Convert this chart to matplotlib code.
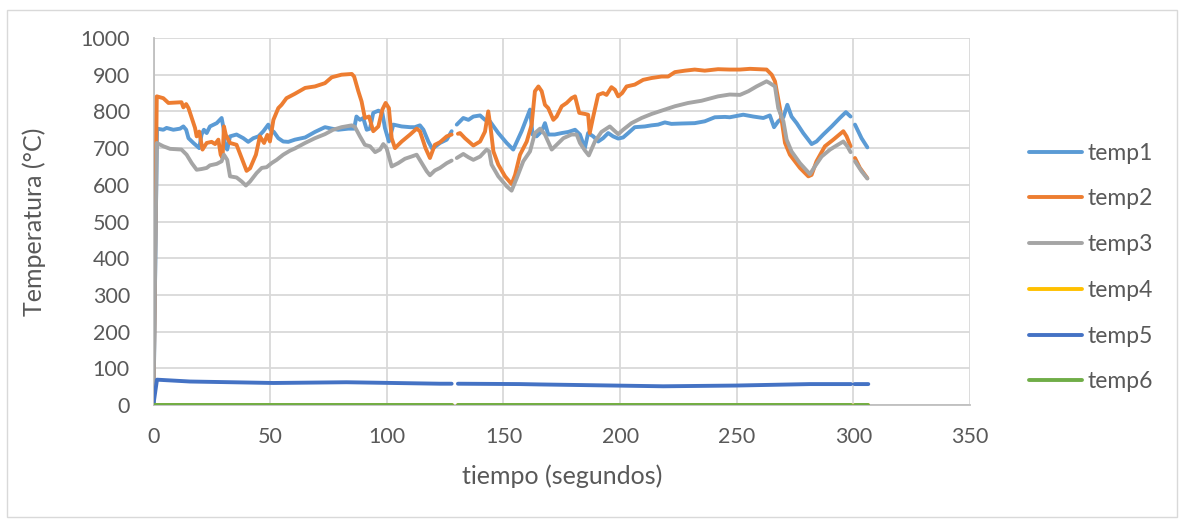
import numpy as np
import matplotlib
matplotlib.use("Agg")
import matplotlib.pyplot as plt
from matplotlib.patches import Rectangle

nan = np.nan

# --- data: time (s) and temperature (°C) per thermocouple; NaN marks missing samples ---
temp1_t = [0, 1.5, 4.2, 5.6, 8.5, 11.4, 12.8, 14, 15, 17.1, 19.6, 20.6, 21.6, 22.8, 24.2, 27.1, 29.2, 30, 30.6,
           31.6, 32.8, 35.6, 38.5, 40.6, 42.8, 45, 47.1, 49.2, 50.2, 51.6, 53.5, 55.6, 57.8, 60.6, 65, 69.2, 73.5,
           76.4, 79.2, 83.5, 86, 87, 88.5, 89.9, 91.4, 92.8, 94.2, 96.4, 98.1, 99.2, 100.9, 102.8, 106.4, 110, 112,
           114.2, 115.7, 117.8, 119.5, 122.8, 125.7, 127.8, 129, 130, 132.8, 135, 137.1, 140, 142.1, 144.2, 147.8,
           151.4, 154.2, 157.8, 161.4, 162.5, 164.2, 166.4, 167.8, 169.2, 172, 175, 177.8, 180.7, 182.8, 184.9,
           186.3, 188.5, 190.6, 192.7, 194.9, 197, 199.2, 201.3, 203.5, 206.3, 210.6, 213.5, 216.3, 219.2, 222,
           226.3, 232, 236.3, 240.6, 245, 247, 252.8, 257.1, 261.4, 264.2, 266, 267.8, 270, 271.7, 273.5, 275.7,
           278.5, 282.1, 284.2, 287.1, 290.7, 294.2, 296.8, 298.8, 299.7, 300.7, 303.5, 306]
temp1_v = [0, 753, 750, 755, 750, 753, 759, 750, 727, 714, 700, 737, 750, 741, 759, 768, 782, 755, 709,
           696, 732, 737, 727, 717, 727, 732, 746, 764, 750, 744, 727, 718, 717, 723, 729, 744, 757,
           753, 750, 753, 753, 786, 777, 782, 750, 753, 796, 802, 796, 755, 718, 764, 759, 757, 757,
           762, 750, 718, 698, 714, 723, 746, nan, 764, 782, 777, 786, 789, 777, 773, 741,
           714, 696, 746, 805, 737, 732, 746, 768, 737, 737, 741, 744, 750, 737, 700,
           741, 732, 718, 727, 741, 732, 726, 729, 741, 757, 759, 762, 764, 770, 766,
           767, 768, 773, 784, 785, 784, 791, 786, 782, 789, 757, 773, 784, 818, 786, 768,
           741, 711, 718, 737, 759, 782, 798, 786, nan, 764, 727, 702]

temp2_t = [0, 1.4, 4.2, 6.4, 12, 12.8, 14, 15, 17.8, 18.5, 19.6, 21, 22.8, 24.9, 26.4, 27.8, 28.8, 29.6, 30.2,
           31, 32.8, 35.6, 37.8, 39.9, 41.4, 43.9, 45.6, 47.4, 48.8, 49.9, 51.4, 53.5, 54.9, 57, 60.6, 65, 69.2,
           73.5, 76.4, 80.6, 85, 86, 87.8, 89.2, 90.6, 92.4, 94.2, 96.4, 98.1, 99.5, 100.9, 102.1, 103.5, 106.4,
           110, 112.8, 114.2, 116.6, 118.5, 120.6, 122.8, 125.7, 127.8, 129, 130.5, 131.4, 133.5, 137.1, 140,
           142.1, 143.5, 144.5, 145.7, 147.8, 150.7, 153.5, 155, 157.1, 160, 162.1, 163.5, 165, 166.4, 167.8,
           169.2, 171.4, 172.8, 175, 177.1, 179.2, 180.7, 182.5, 185, 186.3, 187, 188.5, 190.6, 192.7, 194.2,
           196.3, 197.8, 199.2, 200.9, 202.8, 206.3, 209.9, 213.5, 217.8, 220.6, 223.5, 227.8, 232, 236.3, 242,
           247, 251.4, 255.7, 262.8, 265, 266.4, 268.5, 270.7, 272.8, 277.1, 280.7, 282.1, 284.2, 287.8, 291.4,
           295.7, 297.1, 298.8, 299.7, 300.7, 302.8, 306]
temp2_v = [0, 841, 836, 823, 825, 811, 820, 809, 755, 732, 745, 696, 714, 717, 711, 723, 682, 673, 759,
           736, 714, 709, 673, 638, 645, 682, 732, 714, 736, 718, 777, 809, 818, 836, 848, 864, 868,
           877, 893, 900, 902, 895, 855, 827, 782, 786, 746, 759, 805, 823, 809, 727, 700, 718,
           737, 753, 746, 700, 673, 709, 716, 732, 737, nan, 739, 741, 727, 707, 718,
           745, 800, 755, 691, 655, 623, 602, 627, 682, 718, 764, 855, 868, 855, 818,
           809, 777, 786, 814, 823, 836, 841, 796, 793, 791, 741, 786, 845, 850, 845,
           866, 859, 841, 850, 868, 873, 886, 891, 895, 895, 907, 911, 914, 911, 915,
           914, 914, 916, 914, 900, 882, 809, 714, 682, 646, 623, 627, 664, 705, 723,
           746, 732, 705, nan, 673, 646, 618]

temp3_t = [0, 1.4, 4.2, 7.1, 12, 14.2, 16.4, 18.5, 20.6, 22.8, 24.2, 27.1, 29.2, 30.2, 31.6, 32.8, 35.6, 37.8,
           39.6, 41.4, 44.2, 46.4, 48.5, 50.6, 52.8, 55.6, 58.5, 60.6, 65, 69.2, 73.5, 77, 80.6, 85, 86.4, 88.5,
           90.6, 92.8, 95, 97.1, 98.5, 99.9, 102.1, 104.9, 107.8, 110.6, 112.8, 115, 117.1, 118.5, 120.6, 122.8,
           125.7, 127.8, 129, 130, 132.8, 135, 137.1, 140, 142.8, 143.9, 144.9, 147.8, 151.4, 153.5, 155.7, 158.5,
           161.4, 163.5, 165.7, 167.8, 170.7, 172.8, 175.7, 179.2, 181.4, 182.8, 185, 186.6, 189.2, 192, 195.6,
           197.8, 199.2, 201.3, 204.9, 209.2, 213.5, 219.2, 223.5, 229.2, 234.9, 242, 247, 251.4, 255, 258.5,
           262.8, 264.2, 266.4, 267.8, 270, 271.4, 273.5, 277.1, 281.4, 283.5, 286.4, 290, 292.8, 295.7, 297.4,
           298.8, 299.7, 300.7, 303.5, 306]
temp3_v = [0, 714, 705, 698, 696, 682, 659, 641, 643, 646, 653, 657, 664, 682, 668, 623, 620, 609,
           598, 609, 632, 646, 648, 659, 668, 682, 693, 699, 714, 727, 738, 750, 757, 762, 757, 732,
           709, 705, 689, 696, 711, 700, 650, 659, 671, 677, 682, 659, 637, 626, 639, 646,
           659, 666, nan, 673, 684, 675, 668, 677, 696, 691, 655, 623, 596, 584, 618, 664,
           691, 741, 753, 737, 696, 709, 727, 737, 737, 714, 693, 680, 718, 744, 759,
           746, 738, 750, 768, 782, 793, 805, 814, 823, 829, 841, 846, 845, 855, 868,
           882, 877, 868, 809, 773, 723, 691, 659, 629, 650, 677, 696, 707, 718, 705,
           689, nan, 664, 637, 617]

temp4_t = [0, 127.8, 129, 130.5, 299, 299.7, 300.5, 306.4]
temp4_v = [0, 0, nan, 0, 0, nan, 0, 0]

temp5_t = [0, 1.5, 15.6, 51.4, 82.7, 122.8, 127.8, 129, 130.5, 157, 165.7, 218.5, 249.6, 281.4, 299, 299.7,
           300.5, 306.4]
temp5_v = [3, 69, 64, 60, 62, 58, 58, nan, 58, 57, 56, 51, 53, 57, 57, nan, 57, 57]

temp6_t = [0, 127.8, 129, 130.5, 299, 299.7, 300.5, 306.4]
temp6_v = [0, 0, nan, 0, 0, nan, 0, 0]

series_names = ["temp1", "temp2", "temp3", "temp4", "temp5", "temp6"]
series_colors = ["#5B9BD5", "#ED7D31", "#A5A5A5", "#FFC000", "#4472C4", "#70AD47"]
series_t = [temp1_t, temp2_t, temp3_t, temp4_t, temp5_t, temp6_t]
series_v = [temp1_v, temp2_v, temp3_v, temp4_v, temp5_v, temp6_v]

x_ticks = np.arange(0, 351, 50)
y_ticks = np.arange(0, 1001, 100)

# --- figure ---
W, H = 1179, 519
plt.rcParams["font.family"] = ["Lato", "DejaVu Sans"]
txt = "#595959"
grid_c = "#D9D9D9"

fig = plt.figure(figsize=(W / 100, H / 100), dpi=100)
fig.patch.set_facecolor("white")
fig.add_artist(Rectangle((7 / W, 2 / H), (W - 9) / W, (H - 12) / H, transform=fig.transFigure,
                         fill=False, edgecolor="#D9D9D9", linewidth=1.0))

ax = fig.add_axes([153.5 / W, 1 - 405 / H, (970 - 153.5) / W, (405 - 38) / H])

for name, col, t, v in zip(series_names, series_colors, series_t, series_v):
    ax.plot(t, v, color=col, lw=2.8, label=name, solid_capstyle="round", solid_joinstyle="round", zorder=3)

ax.set_xlim(0, 350)
ax.set_ylim(0, 1000)
ax.set_xticks(x_ticks)
ax.set_yticks(y_ticks)
ax.grid(True, color=grid_c, lw=1.3, zorder=0)
for s in ["top", "right"]:
    ax.spines[s].set_visible(False)
for s in ["left", "bottom"]:
    ax.spines[s].set_color("#BFBFBF")
    ax.spines[s].set_linewidth(1.3)
ax.tick_params(length=0, labelsize=15.5, labelcolor=txt)
ax.tick_params(axis="x", pad=16)
ax.tick_params(axis="y", pad=17)

ax.set_xlabel("tiempo (segundos)", fontsize=18, color=txt)
ax.set_ylabel("Temperatura (°C)", fontsize=18, color=txt)
ax.xaxis.set_label_coords(0.5, -0.163)
ax.yaxis.set_label_coords(-0.132, 0.5)

fig.legend(loc="center left", bbox_to_anchor=(1029 / W, 1 - 267.5 / H), frameon=False,
           fontsize=16.5, labelcolor=txt, handlelength=2.31, handletextpad=0.26,
           labelspacing=1.08, borderpad=0, borderaxespad=0)

fig.savefig("out.png", dpi=100)
